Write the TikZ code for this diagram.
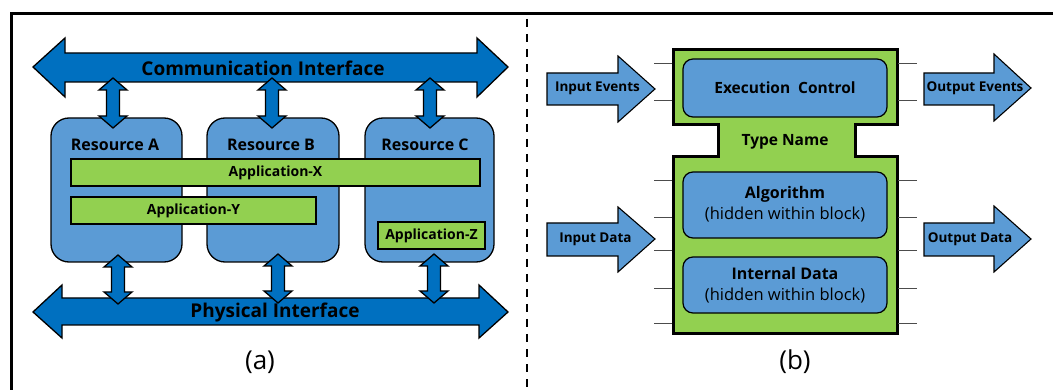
\documentclass[tikz,border=0pt]{standalone}
\usepackage{fontspec}
\setmainfont{Open Sans}
\definecolor{darkblue}{HTML}{0070C0}
\definecolor{lightblue}{HTML}{5B9BD5}
\definecolor{appgreen}{HTML}{92D050}
\begin{document}
\begin{tikzpicture}[x=1pt,y=-1pt,
  darr/.style={draw=black,fill=darkblue,line width=1.3pt,line join=miter},
  sarr/.style={draw=black,fill=lightblue,line width=1.1pt,line join=miter},
  resbox/.style={draw=black,fill=lightblue,line width=1.3pt,rounded corners=18pt,inner sep=0pt},
  appbox/.style={draw=black,fill=appgreen,line width=1.2pt,inner sep=0pt,minimum height=27pt},
  inbox/.style={draw=black,fill=lightblue,line width=1.2pt,rounded corners=10pt,inner sep=0pt,minimum width=204pt},
  port/.style={draw=black!70,line width=0.8pt},
  biglbl/.style={font=\bfseries\fontsize{19}{22}\selectfont,inner sep=0pt},
  lbl/.style={font=\bfseries\fontsize{16}{18}\selectfont,inner sep=0pt},
  albl/.style={font=\bfseries\fontsize{14}{16}\selectfont,inner sep=0pt},
  slbl/.style={font=\bfseries\fontsize{13.5}{15}\selectfont,inner sep=0pt},
  blbl/.style={font=\fontsize{16.5}{21.5}\selectfont,align=center,inner sep=0pt},
  captxt/.style={font=\fontsize{26}{28}\selectfont,inner sep=0pt}]
\useasboundingbox (0,0) rectangle (1053,390);
% frame
\draw[line width=3pt] (11,390) -- (11,14) -- (1053,14);
\draw[line width=2pt,dash pattern=on 8pt off 7pt] (527,19) -- (527,390);

% ---------- (a) ----------
\draw[darr] (33,67) -- (65,38) -- (65,53) -- (477,53) -- (477,38) -- (508,67) -- (477,97) -- (477,82) -- (65,82) -- (65,97) -- cycle;
\node[biglbl] (comm) at (263,68) {Communication Interface};

\draw[darr] (33,312) -- (62,285) -- (62,298) -- (479,298) -- (479,285) -- (508,312) -- (479,338) -- (479,325) -- (62,325) -- (62,338) -- cycle;
\node[biglbl] (phys) at (275,313) {Physical Interface};

\node[resbox,minimum width=131pt,minimum height=144pt] (resA) at (116.5,190) {};
\node[resbox,minimum width=132pt,minimum height=144pt] (resB) at (273,190) {};
\node[resbox,minimum width=129pt,minimum height=144pt] (resC) at (429.5,190) {};
\node[lbl] (labA) at (115,145) {Resource A};
\node[lbl] (labB) at (271,145) {Resource B};
\node[lbl] (labC) at (425,145) {Resource C};

\node[appbox,minimum width=409pt,albl] (appX) at (275.5,172.5) {Application-X};
\node[appbox,minimum width=245pt,albl] (appY) at (193.5,210.5) {Application-Y};
\node[appbox,minimum width=107pt,albl] (appZ) at (431.5,235.5) {Application-Z};

\foreach \cx/\ya/\yb in {113/78/128, 272/78/128, 430/78/128, 118/255/304, 278/254/303, 434/254/303}
  \draw[darr] (\cx,\ya) -- ++(14,12) -- ++(-7.5,0) -- (\cx+6.5,\yb-12) -- ++(7.5,0) -- (\cx,\yb) -- ++(-14,-12) -- ++(7.5,0) -- (\cx-6.5,\ya+12) -- ++(-7.5,0) -- cycle;

\node[captxt] (capa) at (260,362) {(a)};

% ---------- (b) ----------
\draw[draw=black,fill=appgreen,line width=3pt] (673,50) -- (897,50) -- (897,125) -- (855,125) -- (855,157) -- (897,157) -- (897,333) -- (673,333) -- (673,157) -- (718,157) -- (718,125) -- (673,125) -- cycle;
\foreach \yy in {63,100,180,217,250,288,323} {
  \draw[port] (654,\yy) -- (672,\yy);
  \draw[port] (898,\yy) -- (917,\yy);
}
\node[inbox,minimum height=58pt,font=\bfseries\fontsize{15.5}{17}\selectfont] (exec) at (785,88) {Execution\hspace{0.25em} Control};
\node[font=\bfseries\fontsize{15.5}{17}\selectfont,inner sep=0pt] (tname) at (785,141.5) {Type Name};
\node[inbox,minimum height=66pt] (alg) at (785,205) {};
\node[blbl] (algt) at (785,204) {\bfseries\fontsize{16}{21.5}\selectfont Algorithm\\(hidden within block)};
\node[inbox,minimum height=56pt] (intd) at (785,285) {};
\node[blbl] (intt) at (785,285) {\bfseries\fontsize{16}{21}\selectfont Internal Data\\(hidden within block)};

\draw[sarr] (547,73) -- (618,73) -- (618,56) -- (655,89) -- (618,122) -- (618,105) -- (547,105) -- cycle;
\node[slbl] (ine) at (597.5,88) {Input Events};
\draw[sarr] (924,73) -- (994,73) -- (994,54) -- (1031,88) -- (994,121) -- (994,105) -- (924,105) -- cycle;
\node[slbl] (oute) at (975,88) {Output Events};
\draw[sarr] (547,223) -- (618,223) -- (618,207) -- (655,239) -- (618,272) -- (618,256) -- (547,256) -- cycle;
\node[slbl] (ind) at (595.5,239) {Input Data};
\draw[sarr] (924,223) -- (994,223) -- (994,206) -- (1031,239) -- (994,272) -- (994,256) -- (924,256) -- cycle;
\node[slbl] (outd) at (970,239) {Output Data};

\node[captxt] (capb) at (795,362) {(b)};
\end{tikzpicture}
\end{document}
